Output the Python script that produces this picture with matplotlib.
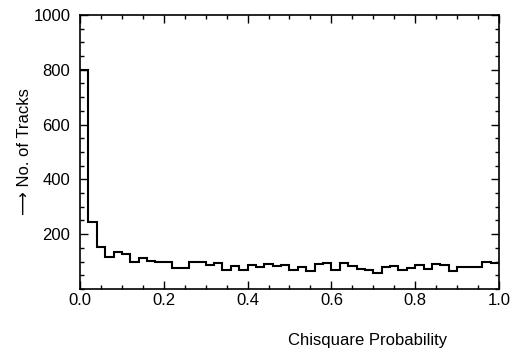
import matplotlib
matplotlib.use("Agg")
import matplotlib.pyplot as plt
from matplotlib.ticker import MultipleLocator
import numpy as np

# histogram of chisquare probability, 50 bins of width 0.02
counts = [800, 245, 155, 116, 134, 127, 100, 113, 103, 100,
          97, 75, 78, 100, 100, 88, 96, 70, 85, 68,
          86, 80, 90, 85, 88, 70, 82, 67, 92, 96,
          69, 96, 85, 72, 69, 60, 79, 84, 69, 75,
          88, 72, 92, 86, 66, 80, 80, 80, 98, 95]
edges = np.linspace(0.0, 1.0, len(counts) + 1)

xticks = [0.0, 0.2, 0.4, 0.6, 0.8, 1.0]
xticklabels = ["0.0", "0.2", "0.4", "0.6", "0.8", "1.0"]
yticks = [200, 400, 600, 800, 1000]

plt.rcParams['font.family'] = ['Liberation Sans', 'DejaVu Sans']

fig = plt.figure(figsize=(5.17, 3.49), dpi=100)
ax = fig.add_axes([0.1547, 0.172, 0.8105, 0.785])

ax.stairs(counts, edges, color="black", lw=1.5, baseline=None)

ax.set_xlim(0, 1.0)
ax.set_ylim(0, 1000)
ax.set_xticks(xticks)
ax.set_xticklabels(xticklabels)
ax.set_yticks(yticks)
ax.xaxis.set_minor_locator(MultipleLocator(0.05))
ax.yaxis.set_minor_locator(MultipleLocator(50))
ax.tick_params(which="both", direction="in", top=True, right=True, labelsize=12)
ax.tick_params(which="major", length=6, width=1)
ax.tick_params(which="minor", length=3, width=1)
ax.tick_params(axis="x", pad=3)
ax.tick_params(axis="y", pad=7)
for s in ax.spines.values():
    s.set_linewidth(1.2)

ax.set_ylabel("\u27f6 No. of Tracks", fontsize=12)
ax.yaxis.set_label_coords(-0.115, 0.5)
ax.set_xlabel("Chisquare Probability", fontsize=12)
ax.xaxis.set_label_coords(0.687, -0.16)

plt.savefig("out.png", dpi=100)
